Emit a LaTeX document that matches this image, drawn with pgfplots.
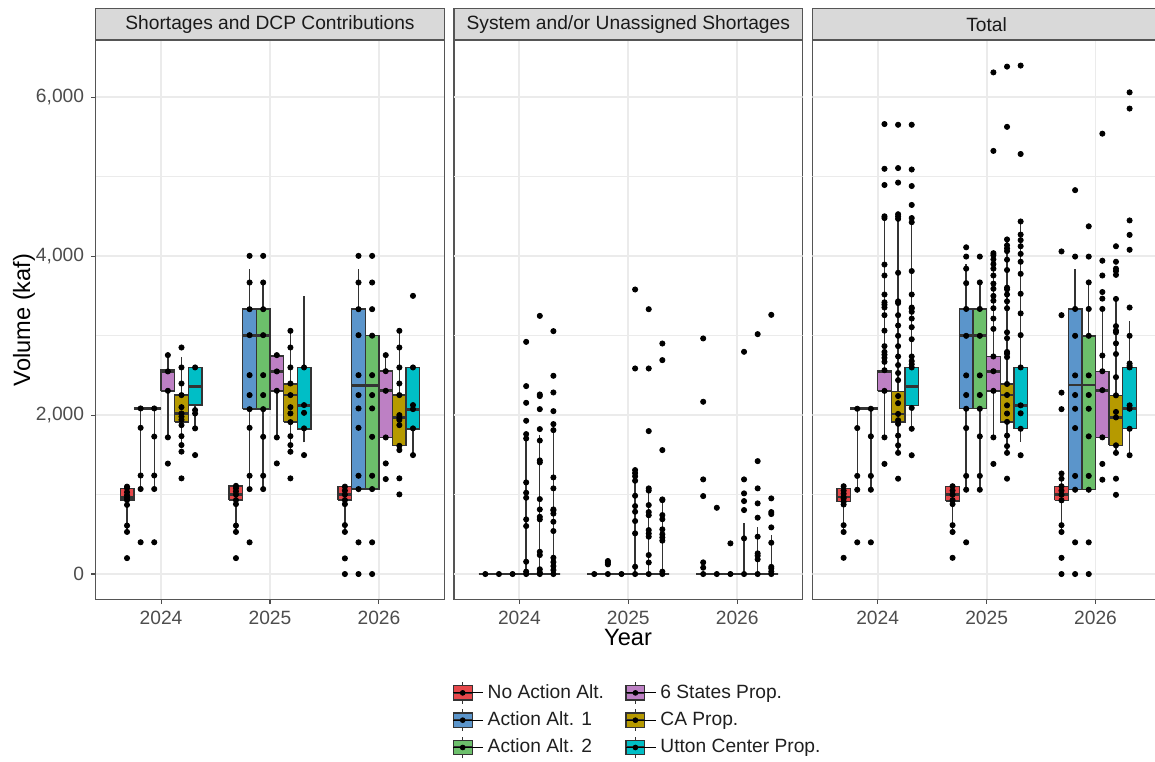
\documentclass[border=0pt]{standalone}
\usepackage{fontspec}
\setmainfont{Liberation Sans}
\usepackage{pgfplots}
\pgfplotsset{compat=1.18}
\definecolor{cRed}{HTML}{E6474A}
\definecolor{cBlue}{HTML}{5B95CB}
\definecolor{cGreen}{HTML}{6CBF6B}
\definecolor{cPurple}{HTML}{BD80C4}
\definecolor{cGold}{HTML}{B69A00}
\definecolor{cCyan}{HTML}{00BEC6}
\definecolor{boxc}{HTML}{333333}
\definecolor{bordc}{HTML}{555555}
\definecolor{gridc}{HTML}{EBEBEB}
\definecolor{tickc}{HTML}{4D4D4D}
\definecolor{stripc}{HTML}{D9D9D9}
\definecolor{stript}{HTML}{1A1A1A}
\newcommand{\ticksize}{\fontsize{9.6pt}{11pt}\selectfont}
\newcommand{\titlesize}{\fontsize{11.8pt}{13pt}\selectfont}
% box: colour, left x, centre x, right x, lower whisker, lower quartile, median, upper quartile, upper whisker
\newcommand{\bx}[9]{%
\addplot[draw=boxc, line width=0.7pt] coordinates {(#3,#5) (#3,#6)};
\addplot[draw=boxc, line width=0.7pt] coordinates {(#3,#8) (#3,#9)};
\addplot[fill=#1, draw=boxc, line width=0.7pt, line join=miter] coordinates {(#2,#6) (#4,#6) (#4,#8) (#2,#8) (#2,#6)};
\addplot[draw=boxc, line width=1.4pt] coordinates {(#2,#7) (#4,#7)};
}
% horizontal grid lines for the panels without y ticks
\newcommand{\hgrid}{%
\addplot[draw=gridc, line width=0.9pt, forget plot] coordinates {(-0.6,0) (2.6,0)};
\addplot[draw=gridc, line width=0.9pt, forget plot] coordinates {(-0.6,2000) (2.6,2000)};
\addplot[draw=gridc, line width=0.9pt, forget plot] coordinates {(-0.6,4000) (2.6,4000)};
\addplot[draw=gridc, line width=0.9pt, forget plot] coordinates {(-0.6,6000) (2.6,6000)};
\addplot[draw=gridc, line width=0.5pt, forget plot] coordinates {(-0.6,1000) (2.6,1000)};
\addplot[draw=gridc, line width=0.5pt, forget plot] coordinates {(-0.6,3000) (2.6,3000)};
\addplot[draw=gridc, line width=0.5pt, forget plot] coordinates {(-0.6,5000) (2.6,5000)};
}
\pgfplotsset{
  pts/.style={only marks, mark=*, mark size=1.3pt, black, mark options={fill=black, draw=black}},
  panel/.style={
    width=174.3pt, height=279.65pt, scale only axis,
    anchor=south west,
    xmin=-0.6, xmax=2.6, ymin=-318, ymax=6721,
    xtick={0,1,2}, xticklabels={2024,2025,2026},
    xtick pos=left, ytick pos=left,
    xmajorgrids,
    major grid style={line width=0.9pt, draw=gridc},
    minor grid style={line width=0.5pt, draw=gridc},
    axis line style={draw=bordc, line width=0.6pt},
    tick align=outside, major tick length=2.3pt, minor tick length=0pt,
    tick style={draw=tickc, line width=0.55pt},
    xticklabel style={font=\ticksize, text=tickc},
    yticklabel style={font=\ticksize, text=tickc},
  },
  noy/.style={ytick=\empty, minor ytick=\empty, ymajorticks=false, yminorticks=false},
  legbox/.style={legend image code/.code={%
    \draw[draw=boxc, line width=0.6pt] (4.7pt,-5.4pt) -- (4.7pt,5.4pt);
    \draw[fill=#1, draw=boxc, line width=0.6pt] (0pt,-3.6pt) rectangle (9.4pt,3.6pt);
    \draw[draw=boxc, line width=1pt] (0pt,0pt) -- (9.4pt,0pt);
    \fill[black] (4.7pt,0pt) circle (1.2pt);
    \path (0pt,0pt) -- (15pt,0pt);
  }},
}
\begin{document}
\begin{tikzpicture}
% ---------------- Panel 1: Shortages and DCP Contributions ----------------
\begin{axis}[panel, name=p1, at={(47.85pt,80.85pt)}, ymajorgrids, yminorgrids,
  ytick={0,2000,4000,6000}, minor ytick={1000,3000,5000}, yticklabels={0,{2,000},{4,000},{6,000}}]
\bx{cRed}{-0.375}{-0.3125}{-0.25}{530}{930}{960}{1080}{1100}
\bx{cBlue}{-0.25}{-0.1875}{-0.125}{1070}{2084}{2084}{2084}{2084}
\bx{cGreen}{-0.125}{-0.0625}{0}{1070}{2084}{2084}{2084}{2084}
\bx{cPurple}{0}{0.0625}{0.125}{1720}{2306}{2545}{2566}{2755}
\bx{cGold}{0.125}{0.1875}{0.25}{1620}{1912}{2021}{2252}{2734}
\bx{cCyan}{0.25}{0.3125}{0.375}{1833}{2126}{2365}{2600}{2600}
\bx{cRed}{0.625}{0.6875}{0.75}{530}{930}{1000}{1110}{1110}
\bx{cBlue}{0.75}{0.8125}{0.875}{1069}{2075}{3006}{3333}{3836}
\bx{cGreen}{0.875}{0.9375}{1}{1069}{2075}{3006}{3333}{3669}
\bx{cPurple}{1}{1.0625}{1.125}{1719}{2306}{2550}{2742}{2755}
\bx{cGold}{1.125}{1.1875}{1.25}{1539}{1912}{2252}{2390}{3061}
\bx{cCyan}{1.25}{1.3125}{1.375}{1656}{1824}{2126}{2600}{3501}
\bx{cRed}{1.625}{1.6875}{1.75}{530}{930}{1000}{1100}{1100}
\bx{cBlue}{1.75}{1.8125}{1.875}{1069}{1069}{2369}{3333}{3836}
\bx{cGreen}{1.875}{1.9375}{2}{1069}{1069}{2369}{3000}{3000}
\bx{cPurple}{2}{2.0625}{2.125}{1719}{1719}{2306}{2553}{2755}
\bx{cGold}{2.125}{2.1875}{2.25}{1560}{1614}{1966}{2252}{3061}
\bx{cCyan}{2.25}{2.3125}{2.375}{1497}{1824}{2075}{2600}{2600}
\addplot[pts] coordinates {
(-0.3125,200) (-0.3125,530) (-0.3125,610) (-0.3125,870) (-0.3125,930) (-0.3125,960) (-0.3125,990) (-0.3125,1030) (-0.3125,1080) (-0.3125,1100)
(-0.1875,400) (-0.1875,1070) (-0.1875,1240) (-0.1875,1840) (-0.1875,2084)
(-0.0625,400) (-0.0625,1070) (-0.0625,1240) (-0.0625,1730) (-0.0625,2084)
(0.0625,1390) (0.0625,1720) (0.0625,2306) (0.0625,2550) (0.0625,2755)
(0.1875,1204) (0.1875,1540) (0.1875,1623) (0.1875,1735) (0.1875,1874) (0.1875,1940) (0.1875,1980) (0.1875,2021) (0.1875,2100) (0.1875,2252) (0.1875,2398) (0.1875,2600) (0.1875,2851)
(0.3125,1497) (0.3125,1833) (0.3125,2021) (0.3125,2063) (0.3125,2600)
(0.6875,200) (0.6875,530) (0.6875,610) (0.6875,880) (0.6875,930) (0.6875,1000) (0.6875,1040) (0.6875,1080) (0.6875,1110)
(0.8125,399) (0.8125,1069) (0.8125,1237) (0.8125,1840) (0.8125,2075) (0.8125,2252) (0.8125,2503) (0.8125,3006) (0.8125,3333) (0.8125,3669) (0.8125,4004)
(0.9375,1069) (0.9375,1237) (0.9375,1727) (0.9375,2075) (0.9375,2252) (0.9375,2503) (0.9375,3006) (0.9375,3333) (0.9375,3669) (0.9375,4004)
(1.0625,1392) (1.0625,1719) (1.0625,2306) (1.0625,2550) (1.0625,2755)
(1.1875,1204) (1.1875,1539) (1.1875,1623) (1.1875,1735) (1.1875,1912) (1.1875,2021) (1.1875,2100) (1.1875,2252) (1.1875,2398) (1.1875,2600) (1.1875,2851) (1.1875,3061)
(1.3125,1497) (1.3125,1833) (1.3125,2029) (1.3125,2126) (1.3125,2600)
(1.6875,0) (1.6875,197) (1.6875,530) (1.6875,616) (1.6875,880) (1.6875,930) (1.6875,1000) (1.6875,1050) (1.6875,1100)
(1.8125,0) (1.8125,399) (1.8125,1069) (1.8125,1237) (1.8125,1840) (1.8125,2084) (1.8125,2252) (1.8125,2503) (1.8125,3006) (1.8125,3333) (1.8125,3669) (1.8125,4004)
(1.9375,0) (1.9375,399) (1.9375,1069) (1.9375,1237) (1.9375,1727) (1.9375,2084) (1.9375,2252) (1.9375,2503) (1.9375,3000) (1.9375,3333) (1.9375,3669) (1.9375,4004)
(2.0625,1195) (2.0625,1392) (2.0625,1719) (2.0625,2306) (2.0625,2553) (2.0625,2755)
(2.1875,1002) (2.1875,1204) (2.1875,1560) (2.1875,1614) (2.1875,1874) (2.1875,1940) (2.1875,1966) (2.1875,2000) (2.1875,2252) (2.1875,2398) (2.1875,2600) (2.1875,2851) (2.1875,3061)
(2.3125,1497) (2.3125,1833) (2.3125,2075) (2.3125,2126) (2.3125,2600) (2.3125,3501)
};
\end{axis}
% ---------------- Panel 2: System and/or Unassigned Shortages ----------------
\begin{axis}[panel, noy, name=p2, at={(227pt,80.85pt)},
  legend columns=2, legend cell align=left,
  legend style={at={(-0.006,-0.1443)}, anchor=north west, draw=none, fill=none, inner sep=0pt,
    font=\ticksize, text=black!88, row sep=1.2pt, /tikz/every even column/.append style={column sep=8.5pt}}]
\addlegendimage{legbox=cRed}\addlegendentry{No Action Alt.}
\addlegendimage{legbox=cPurple}\addlegendentry{6 States Prop.}
\addlegendimage{legbox=cBlue}\addlegendentry{Action Alt. 1}
\addlegendimage{legbox=cGold}\addlegendentry{CA Prop.}
\addlegendimage{legbox=cGreen}\addlegendentry{Action Alt. 2}
\addlegendimage{legbox=cCyan}\addlegendentry{Utton Center Prop.}
\hgrid
\bx{cRed}{-0.375}{-0.3125}{-0.25}{0}{0}{0}{0}{0}
\bx{cBlue}{-0.25}{-0.1875}{-0.125}{0}{0}{0}{0}{0}
\bx{cGreen}{-0.125}{-0.0625}{0}{0}{0}{0}{0}{0}
\bx{cPurple}{0}{0.0625}{0.125}{0}{0}{0}{0}{1706}
\bx{cGold}{0.125}{0.1875}{0.25}{0}{0}{0}{0}{1748}
\bx{cCyan}{0.25}{0.3125}{0.375}{0}{0}{0}{0}{1811}
\bx{cRed}{0.625}{0.6875}{0.75}{0}{0}{0}{0}{0}
\bx{cBlue}{0.75}{0.8125}{0.875}{0}{0}{0}{0}{0}
\bx{cGreen}{0.875}{0.9375}{1}{0}{0}{0}{0}{0}
\bx{cPurple}{1}{1.0625}{1.125}{0}{0}{0}{0}{1308}
\bx{cGold}{1.125}{1.1875}{1.25}{0}{0}{0}{0}{1078}
\bx{cCyan}{1.25}{1.3125}{1.375}{0}{0}{0}{0}{939}
\bx{cRed}{1.625}{1.6875}{1.75}{0}{0}{0}{0}{0}
\bx{cBlue}{1.75}{1.8125}{1.875}{0}{0}{0}{0}{0}
\bx{cGreen}{1.875}{1.9375}{2}{0}{0}{0}{0}{0}
\bx{cPurple}{2}{2.0625}{2.125}{0}{0}{0}{0}{637}
\bx{cGold}{2.125}{2.1875}{2.25}{0}{0}{0}{0}{595}
\bx{cCyan}{2.25}{2.3125}{2.375}{0}{0}{0}{0}{490}
\addplot[pts] coordinates {
(-0.3125,0) (-0.1875,0) (-0.0625,0)
(0.0625,0) (0.0625,30) (0.0625,155) (0.0625,604) (0.0625,688) (0.0625,960) (0.0625,1023) (0.0625,1153) (0.0625,1706) (0.0625,1761) (0.0625,1929) (0.0625,2155) (0.0625,2365) (0.0625,2922)
(0.1875,0) (0.1875,20) (0.1875,60) (0.1875,239) (0.1875,280) (0.1875,688) (0.1875,720) (0.1875,813) (0.1875,943) (0.1875,1405) (0.1875,1430) (0.1875,1680) (0.1875,1824) (0.1875,2075) (0.1875,2240) (0.1875,2260) (0.1875,3249)
(0.3125,0) (0.3125,50) (0.3125,100) (0.3125,150) (0.3125,205) (0.3125,541) (0.3125,658) (0.3125,760) (0.3125,800) (0.3125,813) (0.3125,1078) (0.3125,1216) (0.3125,1811) (0.3125,1887) (0.3125,2050) (0.3125,2285) (0.3125,2495) (0.3125,3057)
(0.6875,0) (0.8125,0) (0.8125,122) (0.8125,143) (0.8125,164) (0.9375,0)
(1.0625,0) (1.0625,92) (1.0625,512) (1.0625,667) (1.0625,784) (1.0625,855) (1.0625,985) (1.0625,1174) (1.0625,1230) (1.0625,1270) (1.0625,1308) (1.0625,2587) (1.0625,3581)
(1.1875,0) (1.1875,145) (1.1875,239) (1.1875,470) (1.1875,510) (1.1875,553) (1.1875,740) (1.1875,780) (1.1875,868) (1.1875,1050) (1.1875,1078) (1.1875,1799) (1.1875,2587) (1.1875,3333)
(1.3125,0) (1.3125,30) (1.3125,420) (1.3125,460) (1.3125,500) (1.3125,562) (1.3125,690) (1.3125,742) (1.3125,930) (1.3125,939) (1.3125,1560) (1.3125,2692) (1.3125,2901)
(1.6875,0) (1.6875,80) (1.6875,147) (1.6875,981) (1.6875,1191) (1.6875,2168) (1.6875,2965)
(1.8125,0) (1.8125,834)
(1.9375,0) (1.9375,386)
(2.0625,0) (2.0625,449) (2.0625,805) (2.0625,918) (2.0625,1015) (2.0625,1191) (2.0625,2797)
(2.1875,0) (2.1875,185) (2.1875,230) (2.1875,260) (2.1875,470) (2.1875,709) (2.1875,889) (2.1875,1078) (2.1875,1421) (2.1875,3019)
(2.3125,0) (2.3125,30) (2.3125,70) (2.3125,90) (2.3125,394) (2.3125,587) (2.3125,755) (2.3125,780) (2.3125,952) (2.3125,3262)
};
\end{axis}
% ---------------- Panel 3: Total ----------------
\begin{axis}[panel, noy, name=p3, at={(406.15pt,80.85pt)}]
\hgrid
\bx{cRed}{-0.375}{-0.3125}{-0.25}{529}{910}{970}{1079}{1105}
\bx{cBlue}{-0.25}{-0.1875}{-0.125}{1061}{2080}{2080}{2080}{2080}
\bx{cGreen}{-0.125}{-0.0625}{0}{1061}{2080}{2080}{2080}{2080}
\bx{cPurple}{0}{0.0625}{0.125}{1720}{2305}{2543}{2556}{4493}
\bx{cGold}{0.125}{0.1875}{0.25}{1525}{1915}{2015}{2296}{4493}
\bx{cCyan}{0.25}{0.3125}{0.375}{1828}{2119}{2361}{2600}{4428}
\bx{cRed}{0.625}{0.6875}{0.75}{529}{920}{1000}{1105}{1105}
\bx{cBlue}{0.75}{0.8125}{0.875}{1061}{2080}{2998}{3336}{3908}
\bx{cGreen}{0.875}{0.9375}{1}{1061}{2080}{2998}{3336}{3670}
\bx{cPurple}{1}{1.0625}{1.125}{1720}{2305}{2552}{2738}{4038}
\bx{cGold}{1.125}{1.1875}{1.25}{1525}{1915}{2253}{2392}{4211}
\bx{cCyan}{1.25}{1.3125}{1.375}{1664}{1828}{2123}{2600}{4437}
\bx{cRed}{1.625}{1.6875}{1.75}{529}{927}{997}{1105}{1265}
\bx{cBlue}{1.75}{1.8125}{1.875}{1061}{1061}{2379}{3336}{3843}
\bx{cGreen}{1.875}{1.9375}{2}{1061}{1061}{2379}{2998}{3670}
\bx{cPurple}{2}{2.0625}{2.125}{1720}{1720}{2314}{2552}{3336}
\bx{cGold}{2.125}{2.1875}{2.25}{1525}{1620}{1971}{2249}{3462}
\bx{cCyan}{2.25}{2.3125}{2.375}{1495}{1828}{2080}{2600}{3185}
\addplot[pts] coordinates {
(-0.3125,204) (-0.3125,529) (-0.3125,615) (-0.3125,875) (-0.3125,910) (-0.3125,950) (-0.3125,970) (-0.3125,1010) (-0.3125,1050) (-0.3125,1105)
(-0.1875,399) (-0.1875,1061) (-0.1875,1235) (-0.1875,1837) (-0.1875,2080)
(-0.0625,399) (-0.0625,1061) (-0.0625,1235) (-0.0625,1733) (-0.0625,2080)
(0.0625,1386) (0.0625,1720) (0.0625,2305) (0.0625,2565) (0.0625,2670) (0.0625,2720) (0.0625,2760) (0.0625,2795) (0.0625,2868) (0.0625,3063) (0.0625,3258) (0.0625,3354) (0.0625,3390) (0.0625,3420) (0.0625,3518) (0.0625,3757) (0.0625,3895) (0.0625,4480) (0.0625,4502) (0.0625,4896) (0.0625,5100) (0.0625,5663)
(0.1875,1200) (0.1875,1525) (0.1875,1620) (0.1875,1742) (0.1875,1890) (0.1875,1935) (0.1875,2015) (0.1875,2150) (0.1875,2240) (0.1875,2440) (0.1875,2530) (0.1875,2630) (0.1875,2738) (0.1875,2868) (0.1875,2998) (0.1875,3128) (0.1875,3258) (0.1875,3410) (0.1875,3432) (0.1875,3791) (0.1875,4470) (0.1875,4500) (0.1875,4528) (0.1875,4926) (0.1875,5109) (0.1875,5654)
(0.3125,1495) (0.3125,1828) (0.3125,2090) (0.3125,2600) (0.3125,2640) (0.3125,2680) (0.3125,2738) (0.3125,2955) (0.3125,3107) (0.3125,3215) (0.3125,3300) (0.3125,3340) (0.3125,3354) (0.3125,3518) (0.3125,3813) (0.3125,4428) (0.3125,4480) (0.3125,4645) (0.3125,4883) (0.3125,5091) (0.3125,5654)
(0.6875,204) (0.6875,529) (0.6875,615) (0.6875,880) (0.6875,930) (0.6875,1000) (0.6875,1050) (0.6875,1105)
(0.8125,399) (0.8125,1061) (0.8125,1235) (0.8125,1837) (0.8125,2080) (0.8125,2253) (0.8125,2500) (0.8125,2998) (0.8125,3336) (0.8125,3661) (0.8125,3843) (0.8125,3995) (0.8125,4112)
(0.9375,1061) (0.9375,1235) (0.9375,1733) (0.9375,2080) (0.9375,2253) (0.9375,2500) (0.9375,2998) (0.9375,3336) (0.9375,3670) (0.9375,3995)
(1.0625,1386) (1.0625,1720) (1.0625,2305) (1.0625,2552) (1.0625,2738) (1.0625,3085) (1.0625,3215) (1.0625,3345) (1.0625,3440) (1.0625,3500) (1.0625,3590) (1.0625,3655) (1.0625,3757) (1.0625,3843) (1.0625,3900) (1.0625,3960) (1.0625,4012) (1.0625,4038) (1.0625,5325) (1.0625,6313)
(1.1875,1200) (1.1875,1525) (1.1875,1610) (1.1875,1742) (1.1875,1915) (1.1875,2020) (1.1875,2123) (1.1875,2253) (1.1875,2392) (1.1875,2730) (1.1875,2773) (1.1875,2795) (1.1875,2968) (1.1875,3042) (1.1875,3345) (1.1875,3432) (1.1875,3518) (1.1875,3583) (1.1875,3604) (1.1875,3826) (1.1875,3956) (1.1875,4064) (1.1875,4098) (1.1875,4137) (1.1875,4211) (1.1875,5628) (1.1875,6386)
(1.3125,1495) (1.3125,1828) (1.3125,2023) (1.3125,2123) (1.3125,2600) (1.3125,3007) (1.3125,3280) (1.3125,3527) (1.3125,3778) (1.3125,3930) (1.3125,4029) (1.3125,4125) (1.3125,4202) (1.3125,4272) (1.3125,4437) (1.3125,5286) (1.3125,6399)
(1.6875,0) (1.6875,204) (1.6875,529) (1.6875,615) (1.6875,927) (1.6875,997) (1.6875,1050) (1.6875,1105) (1.6875,1200) (1.6875,1265) (1.6875,2075) (1.6875,2283) (1.6875,3258) (1.6875,4060)
(1.8125,0) (1.8125,399) (1.8125,1061) (1.8125,1235) (1.8125,1837) (1.8125,2080) (1.8125,2253) (1.8125,2500) (1.8125,2998) (1.8125,3336) (1.8125,3995) (1.8125,4831)
(1.9375,0) (1.9375,399) (1.9375,1061) (1.9375,1235) (1.9375,1733) (1.9375,2080) (1.9375,2253) (1.9375,2500) (1.9375,2998) (1.9375,3336) (1.9375,3670) (1.9375,3995) (1.9375,4376)
(2.0625,1187) (2.0625,1386) (2.0625,1720) (2.0625,2314) (2.0625,2552) (2.0625,2750) (2.0625,3336) (2.0625,3466) (2.0625,3549) (2.0625,3757) (2.0625,3943) (2.0625,5542)
(2.1875,997) (2.1875,1200) (2.1875,1525) (2.1875,1620) (2.1875,1971) (2.1875,2040) (2.1875,2249) (2.1875,2478) (2.1875,2769) (2.1875,2903) (2.1875,3042) (2.1875,3063) (2.1875,3120) (2.1875,3462) (2.1875,3765) (2.1875,3813) (2.1875,3843) (2.1875,3930) (2.1875,4125)
(2.3125,1495) (2.3125,1828) (2.3125,2080) (2.3125,2123) (2.3125,2600) (2.3125,2620) (2.3125,2650) (2.3125,2998) (2.3125,3354) (2.3125,4081) (2.3125,4268) (2.3125,4450) (2.3125,5858) (2.3125,6062)
};
\end{axis}
% ---------------- strips ----------------
\foreach \p/\t in {p1/Shortages and DCP Contributions, p2/System and\slash or Unassigned Shortages, p3/Total}{
  \draw[fill=stripc, draw=bordc, line width=0.6pt] (\p.north west) rectangle ([yshift=15.85pt]\p.north east);
  \node[font=\ticksize, text=stript, inner sep=0pt] at ([yshift=7.9pt]\p.north) {\t};
}
% ---------------- axis titles ----------------
\node[font=\titlesize, rotate=90, inner sep=0pt] at (12pt,220.5pt) {Volume (kaf)};
\node[font=\titlesize, inner sep=0pt] at (314pt,62pt) {Year};
\pgfresetboundingbox
\useasboundingbox (0pt,0pt) rectangle (577.5pt,380.5pt);
\end{tikzpicture}
\end{document}
